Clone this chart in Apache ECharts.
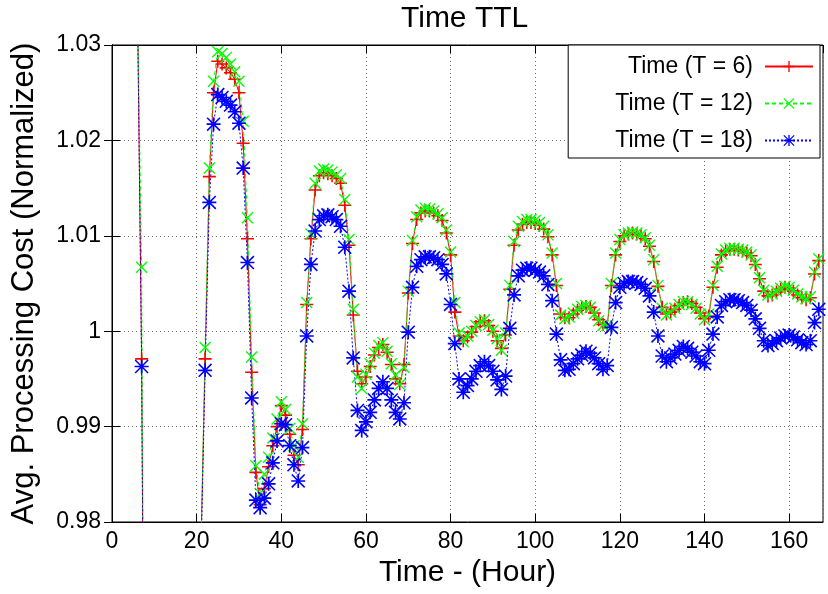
<!DOCTYPE html>
<html>
<head>
<meta charset="utf-8">
<title>Time TTL</title>
<script src="https://cdn.jsdelivr.net/npm/echarts@6/dist/echarts.min.js"></script>
<style>
  html, body { margin: 0; padding: 0; background: #fff; }
  #chart { width: 828px; height: 594px; }
</style>
</head>
<body>
<div id="chart"></div>
<script>
// first hour that has a value, one value per hour after that
const startHour = 6;
const xTicks = [0, 20, 40, 60, 80, 100, 120, 140, 160];
const xMax = 168;
const yTicks = [0.98, 0.99, 1, 1.01, 1.02, 1.03];

const seriesNames = ['Time (T = 6)', 'Time (T = 12)', 'Time (T = 18)'];

// hours 9-20 sit far below the plot and can't be read -> null
const costT6 = [
  1.035, 0.9971, 0.925,
  null, null, null, null, null, null, null, null, null, null, null, null,
  0.977, 0.9971, 1.0162, 1.0250, 1.0283, 1.0280, 1.0276, 1.0271, 1.0264, 1.0250,   // 21-30
  1.0197, 1.0097, 0.9957, 0.9852, 0.9818, 0.9835, 0.9858, 0.9880, 0.9900, 0.9922,  // 31-40
  0.9912, 0.9892, 0.9870, 0.9860, 0.9897, 1.0028, 1.0097, 1.0148, 1.0163, 1.0166,  // 41-50
  1.0165, 1.0163, 1.0160, 1.0155, 1.0132, 1.0090, 1.0017, 0.9958, 0.9945, 0.9952,  // 51-60
  0.9963, 0.9975, 0.9983, 0.9986, 0.9978, 0.9965, 0.9950, 0.9945, 0.9965, 1.0040,  // 61-70
  1.0092, 1.0117, 1.0124, 1.0126, 1.0126, 1.0124, 1.0121, 1.0116, 1.0103, 1.0080,  // 71-80
  1.0020, 0.9995, 0.9990, 0.9994, 0.9999, 1.0005, 1.0010, 1.0011, 1.0006, 1.0000,  // 81-90
  0.9990, 0.9982, 0.9996, 1.0044, 1.0090, 1.0106, 1.0112, 1.0114, 1.0114, 1.0113,  // 91-100
  1.0111, 1.0107, 1.0099, 1.0080, 1.0048, 1.0018, 1.0014, 1.0014, 1.0018, 1.0022,  // 101-110
  1.0025, 1.0026, 1.0025, 1.0019, 1.0012, 1.0007, 1.0005, 1.0048, 1.0080, 1.0094,  // 111-120
  1.0100, 1.0102, 1.0103, 1.0102, 1.0100, 1.0097, 1.0089, 1.0073, 1.0047, 1.0025,  // 121-130
  1.0018, 1.0020, 1.0023, 1.0027, 1.0030, 1.0031, 1.0029, 1.0025, 1.0019, 1.0013,  // 131-140
  1.0016, 1.0046, 1.0067, 1.0080, 1.0084, 1.0086, 1.0086, 1.0085, 1.0084, 1.0082,  // 141-150
  1.0079, 1.0070, 1.0055, 1.0042, 1.0037, 1.0038, 1.0041, 1.0044, 1.0046, 1.0045,  // 151-160
  1.0042, 1.0038, 1.0035, 1.0033, 1.0035, 1.0060, 1.0074                           // 161-167
];

const costT12 = [
  1.035, 1.0067, 0.92,
  null, null, null, null, null, null, null, null, null, null, null, null,
  0.977, 0.9983, 1.0171, 1.0262, 1.0293, 1.0291, 1.0287, 1.0280, 1.0272, 1.0262,
  1.0220, 1.0119, 0.9973, 0.9859, 0.9830, 0.9850, 0.9868, 0.9888, 0.9908, 0.9926,
  0.9918, 0.9898, 0.9880, 0.9868, 0.9903, 1.0030, 1.0102, 1.0155, 1.0168, 1.0170,
  1.0169, 1.0167, 1.0164, 1.0160, 1.0138, 1.0096, 1.0023, 0.9952, 0.9940, 0.9955,
  0.9966, 0.9977, 0.9985, 0.9988, 0.9979, 0.9966, 0.9954, 0.9944, 0.9962, 1.0042,
  1.0095, 1.0120, 1.0127, 1.0129, 1.0128, 1.0126, 1.0123, 1.0119, 1.0106, 1.0083,
  1.0030, 0.9998, 0.9989, 0.9995, 1.0000, 1.0006, 1.0010, 1.0012, 1.0007, 1.0001,
  0.9992, 0.9980, 0.9998, 1.0048, 1.0094, 1.0110, 1.0115, 1.0117, 1.0117, 1.0116,
  1.0114, 1.0110, 1.0101, 1.0082, 1.0050, 1.0017, 1.0013, 1.0015, 1.0019, 1.0023,
  1.0026, 1.0027, 1.0025, 1.0018, 1.0011, 1.0006, 1.0006, 1.0050, 1.0082, 1.0096,
  1.0101, 1.0103, 1.0104, 1.0103, 1.0101, 1.0098, 1.0090, 1.0075, 1.0048, 1.0024,
  1.0017, 1.0020, 1.0024, 1.0028, 1.0031, 1.0031, 1.0028, 1.0024, 1.0018, 1.0012,
  1.0018, 1.0048, 1.0068, 1.0081, 1.0085, 1.0087, 1.0087, 1.0086, 1.0085, 1.0083,
  1.0080, 1.0071, 1.0056, 1.0043, 1.0038, 1.0039, 1.0042, 1.0045, 1.0047, 1.0046,
  1.0043, 1.0039, 1.0036, 1.0034, 1.0036, 1.0062, 1.0076
];

const costT18 = [
  1.035, 0.9963, 0.925,
  null, null, null, null, null, null, null, null, null, null, null, null,
  0.976, 0.9959, 1.0135, 1.0217, 1.0248, 1.0245, 1.0241, 1.0237, 1.0230, 1.0218,
  1.0171, 1.0072, 0.9930, 0.9823, 0.9815, 0.9825, 0.9840, 0.9862, 0.9885, 0.9903,
  0.9902, 0.9880, 0.9860, 0.9843, 0.9878, 0.9995, 1.0070, 1.0105, 1.0117, 1.0121,
  1.0122, 1.0120, 1.0117, 1.0110, 1.0088, 1.0042, 0.9972, 0.9917, 0.9896, 0.9905,
  0.9915, 0.9928, 0.9940, 0.9947, 0.9940, 0.9928, 0.9915, 0.9908, 0.9925, 0.9999,
  1.0046, 1.0068, 1.0075, 1.0078, 1.0078, 1.0077, 1.0075, 1.0070, 1.0060, 1.0028,
  0.9987, 0.9950, 0.9936, 0.9943, 0.9950, 0.9958, 0.9964, 0.9968, 0.9964, 0.9958,
  0.9949, 0.9939, 0.9953, 1.0003, 1.0038, 1.0058, 1.0064, 1.0066, 1.0066, 1.0064,
  1.0062, 1.0058, 1.0049, 1.0032, 0.9997, 0.9970, 0.9959, 0.9960, 0.9966, 0.9971,
  0.9975, 0.9979, 0.9977, 0.9972, 0.9966, 0.9960, 0.9964, 1.0004, 1.0030, 1.0046,
  1.0050, 1.0052, 1.0052, 1.0051, 1.0049, 1.0045, 1.0037, 1.0020, 0.9995, 0.9974,
  0.9968, 0.9972, 0.9976, 0.9980, 0.9984, 0.9982, 0.9978, 0.9974, 0.9968, 0.9966,
  0.9980, 0.9997, 1.0015, 1.0027, 1.0031, 1.0033, 1.0033, 1.0032, 1.0030, 1.0027,
  1.0022, 1.0013, 1.0003, 0.9990, 0.9985, 0.9987, 0.9990, 0.9993, 0.9995, 0.9996,
  0.9994, 0.9991, 0.9988, 0.9986, 0.9990, 1.0009, 1.0023
];

// gnuplot style point shapes: + , x , *
const plusPath = 'path://M0,4.4H10V5.6H0Z M4.4,0H5.6V10H4.4Z';
const crossPath = 'path://M0,0.8L0.8,0L10,9.2L9.2,10Z M9.2,0L10,0.8L0.8,10L0,9.2Z';
const starPath = 'path://M0,4.4H10V5.6H0Z M4.4,0H5.6V10H4.4Z M0,0.8L0.8,0L10,9.2L9.2,10Z M9.2,0L10,0.8L0.8,10L0,9.2Z';

const font = 'Liberation Sans';

function toPairs(values) {
    return values.map((v, i) => [startHour + i, v]);
}

function makeSeries(name, values, color, symbol, size, dash) {
    return {
        name: name,
        type: 'line',
        data: toPairs(values),
        symbol: symbol,
        symbolSize: size,
        showAllSymbol: true,
        connectNulls: false,
        lineStyle: { color: color, width: 1, type: dash },
        itemStyle: { color: color, borderWidth: 0 },
        emphasis: { disabled: true }
    };
}

let myChart = echarts.init(document.getElementById('chart'));

let option = {
    animation: false,
    backgroundColor: '#fff',
    title: {
        text: 'Time TTL',
        left: 396,
        top: -1,
        textStyle: { fontFamily: font, fontSize: 30, fontWeight: 'normal', color: '#000' }
    },
    legend: {
        orient: 'vertical',
        right: 8,
        top: 45,
        align: 'right',
        itemWidth: 48,
        itemHeight: 14,
        itemGap: 14,
        padding: [10, 6, 6, 47],
        backgroundColor: '#fff',
        borderColor: '#000',
        borderWidth: 1,
        borderRadius: 0,
        textStyle: { fontFamily: font, fontSize: 23, color: '#000', padding: [0, 7, 0, 0] },
        data: seriesNames
    },
    grid: {
        left: 112,
        right: 5,
        top: 45,
        bottom: 72,
        show: true,
        borderColor: '#000',
        borderWidth: 1
    },
    xAxis: [
        {
            type: 'value',
            min: xTicks[0],
            max: xMax,
            interval: xTicks[1] - xTicks[0],
            name: 'Time - (Hour)',
            nameLocation: 'middle',
            nameGap: 36,
            nameTextStyle: { fontFamily: font, fontSize: 30, color: '#000' },
            axisLine: { show: true, lineStyle: { color: '#000', width: 1 } },
            axisTick: { show: true, inside: true, length: 8, lineStyle: { color: '#000' } },
            axisLabel: { fontFamily: font, fontSize: 23, color: '#000', margin: 8, showMaxLabel: false },
            splitLine: { show: true, lineStyle: { color: '#666', type: [1, 3], width: 1 } }
        },
        {
            type: 'value',
            position: 'top',
            min: xTicks[0],
            max: xMax,
            interval: xTicks[1] - xTicks[0],
            axisLine: { show: true, lineStyle: { color: '#000', width: 1 } },
            axisTick: { show: true, inside: true, length: 8, lineStyle: { color: '#000' } },
            axisLabel: { show: false },
            splitLine: { show: false }
        }
    ],
    yAxis: [
        {
            type: 'value',
            min: yTicks[0],
            max: yTicks[yTicks.length - 1],
            interval: 0.01,
            name: 'Avg. Processing Cost (Normalized)',
            nameLocation: 'middle',
            nameGap: 72,
            nameTextStyle: { fontFamily: font, fontSize: 31, color: '#000' },
            axisLine: { show: true, lineStyle: { color: '#000', width: 1 } },
            axisTick: { show: true, inside: true, length: 8, lineStyle: { color: '#000' } },
            axisLabel: {
                fontFamily: font, fontSize: 23, color: '#000', margin: 11,
                formatter: function (v) { return String(Number(v.toFixed(2))); }
            },
            splitLine: { show: true, lineStyle: { color: '#666', type: [1, 3], width: 1 } }
        },
        {
            type: 'value',
            position: 'right',
            min: yTicks[0],
            max: yTicks[yTicks.length - 1],
            interval: 0.01,
            axisLine: { show: true, lineStyle: { color: '#000', width: 1 } },
            axisTick: { show: true, inside: true, length: 8, lineStyle: { color: '#000' } },
            axisLabel: { show: false },
            splitLine: { show: false }
        }
    ],
    series: [
        makeSeries(seriesNames[0], costT6, '#ff0000', plusPath, 13, 'solid'),
        makeSeries(seriesNames[1], costT12, '#00ff00', crossPath, 12, [4, 3]),
        makeSeries(seriesNames[2], costT18, '#0000ff', starPath, 14, [2, 2])
    ]
};

myChart.setOption(option);
</script>
</body>
</html>
